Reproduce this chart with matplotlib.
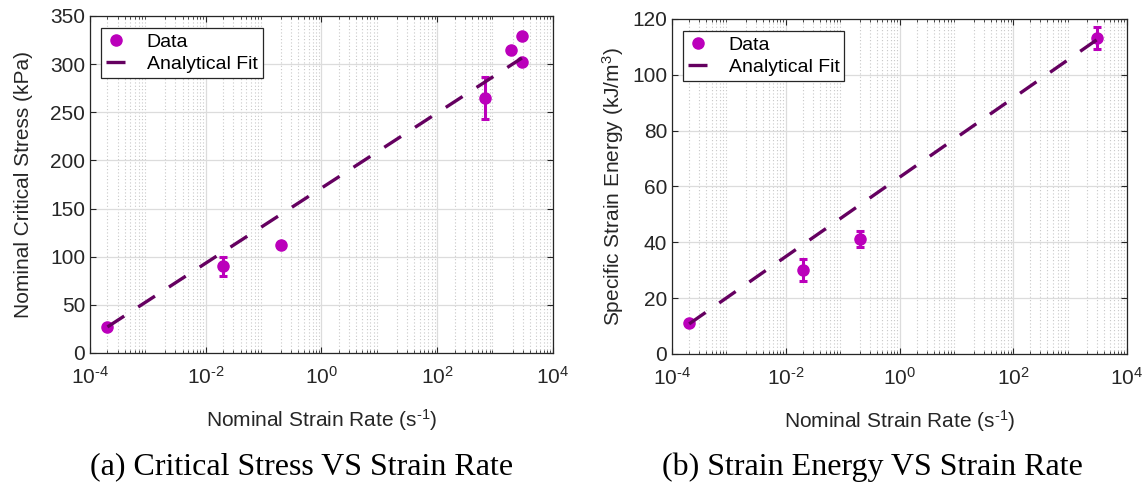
import numpy as np
import matplotlib
matplotlib.use("Agg")
import matplotlib.pyplot as plt
from matplotlib.ticker import LogLocator, NullFormatter, MultipleLocator

# ---- data (a) ----
rate_a = [2e-4, 0.02, 0.2, 680, 1900, 2900, 2900]
stress_a = [27, 90, 112, 265, 315, 329, 302]
stress_err = [0, 10, 3, 22, 0, 0, 0]
fit_a = (171.3, 39.0)   # intercept, slope per decade
fit_a_range = [2e-4, 2900]

# ---- data (b) ----
rate_b = [2e-4, 0.02, 0.2, 3000]
energy_b = [11.2, 30.1, 41.2, 113.3]
energy_err = [0, 4, 3, 4]
fit_b = (63.3, 14.2)
fit_b_range = [2e-4, 3000]

xticks = [1e-4, 1e-2, 1e0, 1e2, 1e4]
captions = ["(a) Critical Stress VS Strain Rate", "(b) Strain Energy VS Strain Rate"]

DATA_C = "#BB00BB"
FIT_C = "#650060"
TXT_C = "#262626"
FS = 15

plt.rcParams["font.family"] = ["Liberation Sans", "DejaVu Sans"]
plt.rcParams["mathtext.fontset"] = "custom"
plt.rcParams["mathtext.rm"] = "Liberation Sans"
plt.rcParams["mathtext.it"] = "Liberation Sans"

fig = plt.figure(figsize=(11.48, 4.83), dpi=100)
ax1 = fig.add_axes([0.0784, 0.2692, 0.4033, 0.6977])
ax2 = fig.add_axes([0.5854, 0.2671, 0.3963, 0.6936])


def style(ax, ylim, ystep):
    ax.set_xscale("log")
    ax.set_xlim(1e-4, 1e4)
    ax.set_ylim(*ylim)
    ax.yaxis.set_major_locator(MultipleLocator(ystep))
    ax.set_xticks(xticks)
    ax.set_xticklabels([r"$10^{\text{-}%d}$" % abs(int(np.log10(t))) if t < 1 else r"$10^{%d}$" % int(np.log10(t)) for t in xticks])
    ax.xaxis.set_minor_locator(LogLocator(base=10, subs=np.arange(2, 10), numticks=50))
    ax.xaxis.set_minor_formatter(NullFormatter())
    ax.grid(True, which="major", color="#dcdcdc", lw=0.9)
    ax.grid(True, which="minor", axis="x", color="#c8c8c8", lw=0.8, ls=(0, (1, 2)))
    ax.set_axisbelow(True)
    ax.tick_params(which="both", direction="in", top=True, right=True,
                   labelsize=FS, colors=TXT_C, length=4)
    ax.tick_params(which="minor", length=2.5)
    ax.tick_params(axis="x", pad=9)
    for s in ax.spines.values():
        s.set_color("#262626")
        s.set_linewidth(0.9)
    ax.set_xlabel(r"Nominal Strain Rate (s$^{\text{-}1}$)", fontsize=FS, color=TXT_C, labelpad=14)


def draw(ax, x, y, err, fit, frange):
    xf = np.logspace(np.log10(frange[0]), np.log10(frange[1]), 100)
    yf = fit[0] + fit[1] * np.log10(xf)
    ax.errorbar(x, y, yerr=err, fmt="none", ecolor=DATA_C, elinewidth=2.2,
                capsize=3, capthick=2.2, zorder=3)
    ax.plot(x, y, "o", color=DATA_C, ms=8, label="Data", zorder=3)
    ax.plot(xf, yf, color=FIT_C, lw=2.4, dashes=(6, 5), label="Analytical Fit", zorder=4)
    leg = ax.legend(loc="upper left", fontsize=14, frameon=True, fancybox=False,
                    framealpha=1, edgecolor="#262626", borderpad=0.25,
                    handlelength=1.0, handletextpad=1.1, labelspacing=0.25,
                    borderaxespad=0, bbox_to_anchor=(0.024, 0.964))
    leg.get_frame().set_linewidth(0.9)


draw(ax1, rate_a, stress_a, stress_err, fit_a, fit_a_range)
style(ax1, (0, 350), 50)
ax1.set_ylabel("Nominal Critical Stress (kPa)", fontsize=FS, color=TXT_C, labelpad=12)

draw(ax2, rate_b, energy_b, energy_err, fit_b, fit_b_range)
style(ax2, (0, 120), 20)
ax2.set_ylabel(r"Specific Strain Energy (kJ/m$^3$)", fontsize=FS, color=TXT_C, labelpad=4)

fig.text(0.263, 0.033, captions[0], ha="center", va="center",
         fontsize=23, family=["Liberation Serif"], color="black")
fig.text(0.760, 0.033, captions[1], ha="center", va="center",
         fontsize=23, family=["Liberation Serif"], color="black")

fig.savefig("out.png", dpi=100)
